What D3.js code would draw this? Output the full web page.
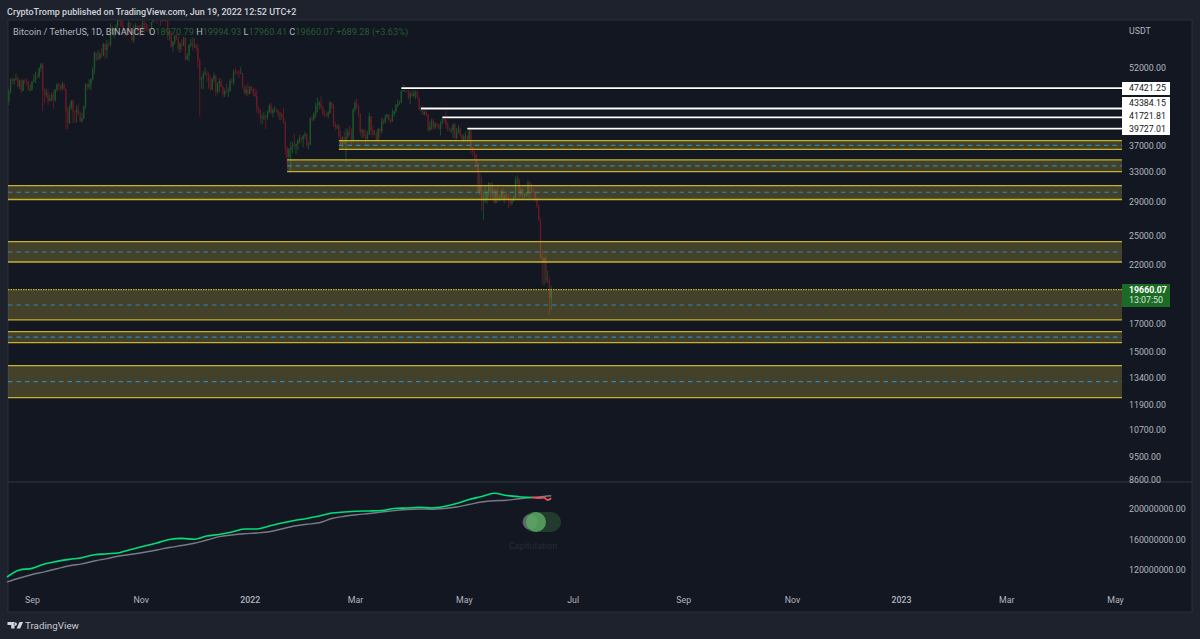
<!DOCTYPE html>
<html>
<head>
<meta charset="utf-8">
<script src="https://cdn.jsdelivr.net/npm/d3@7"></script>
<style>
  html, body { margin: 0; padding: 0; background: #1e222d; }
  svg { display: block; font-family: Roboto, sans-serif; }
</style>
</head>
<body>
<svg width="1200" height="639" viewBox="0 0 1200 639"></svg>
<script>
// Daily BTCUSDT candles, Aug 18 2021 - Jun 19 2022 (one row per month)
const firstDay = "2021-08-18";
const opens = [
  45000,44800,46700,49300,48900,49300,49500,47700,49000,46850,49070,48900,48800,46990,
  47100,48800,49270,49940,49900,51750,52660,46860,46070,46400,44850,45140,46060,44960,47090,48150,47750,47300,48300,47260,42990,40700,43570,44900,42840,42700,43170,42170,41030,41520,
  43820,48140,47630,48200,49220,51470,55310,53800,53960,54960,54690,57480,56000,57370,57350,61670,60870,61530,62010,64280,66000,62200,60690,61300,60850,63080,60330,58450,60590,62270,61890,
  61300,60910,63220,62930,61440,60970,61450,63270,67520,66930,64880,64810,64150,64400,65500,63600,60060,60360,56900,58060,59700,58680,56280,57540,57140,58960,53730,54710,57270,57800,
  56950,57180,56480,53600,49150,49390,50440,50590,50470,47540,47150,49390,50050,46700,48340,48860,47630,46130,46830,46680,46910,48890,48590,50820,50800,50710,50700,50700,47540,46460,47120,
  46210,47720,47300,46430,45830,43430,43080,41550,41680,41860,41820,42730,43920,42590,43100,43180,43110,42250,42370,41660,40680,36450,35070,36280,36660,36950,36810,37160,37710,38170,37920,
  38480,38740,36950,37080,41570,41380,42410,43840,44040,44390,43510,42380,42230,42060,42530,44570,43870,40520,40000,40120,38430,37070,38280,37250,38330,39220,39110,37700,
  43160,44420,43920,42450,39140,39400,38420,37990,38730,41940,39420,38730,38810,37780,39670,39280,41110,40920,41760,42200,41260,41000,42360,42880,43990,44310,44510,46820,47130,47430,47060,
  45510,46280,45810,46410,46580,45500,43170,43440,42250,42750,42160,39530,40070,41150,39940,40550,40400,39680,40800,41500,41360,40480,39710,39450,39450,40430,38110,39240,39740,38600,
  37630,38470,38520,37730,39690,36550,36010,35470,34040,30080,31020,28940,28990,29280,30080,31330,29870,30440,28720,30300,29200,29430,30290,29100,29650,29540,29200,28630,29030,29470,31720,
  31790,29800,30450,29700,29860,29910,31370,31130,30200,30110,29090,28420,26570,22490,22140,22580,20380,20450,18970
];
const highs = [
  46000,47300,49400,49800,49500,50500,49900,49200,49300,49200,49300,49600,48900,48200,
  48900,50400,51000,50600,51900,52900,52950,47400,47350,47100,46000,46500,46900,47250,48450,48500,48150,48800,48400,47350,43650,44000,45000,45150,43000,43950,44350,42800,42600,43950,
  48500,48350,49300,49500,51900,55750,55300,56100,55500,56550,57800,57700,58550,58000,62950,62400,61700,62700,64500,67000,66650,63700,61750,61500,63700,63300,61500,62500,62950,62350,62450,
  62450,64300,63500,63100,62600,61600,63300,67800,68500,69000,65600,65450,65000,65950,66400,63500,61000,60950,58300,59800,60000,59500,58000,58600,59400,59200,55300,57400,58850,59200,
  59000,57400,57600,53900,49800,51000,51900,51150,50800,50100,49500,50800,50200,48650,49500,49450,48000,47350,48350,47550,49300,49600,51400,51800,51150,51300,52100,50700,48150,47900,48550,
  47900,47950,47550,47500,47100,43700,43200,42300,42800,42250,43000,44300,44450,43450,43800,43450,43200,42700,42600,43450,41100,36800,36500,37500,37500,38900,37250,38000,38700,38350,38700,
  39250,38900,37400,41700,41950,42650,44500,45500,44800,45800,43900,43000,42750,42900,44750,44550,44200,40950,40450,40500,39400,38400,39250,39800,39700,40300,39800,43400,
  44950,45400,44100,42500,39700,39650,39550,39350,42600,41950,40250,39500,39300,39800,39900,41700,41450,42300,42400,42300,41550,43350,43000,44250,45100,44800,46900,48200,48100,47700,47550,
  46700,47200,47450,46900,47200,45500,43900,43950,43000,43400,42400,41000,41550,41450,40850,40700,40600,41100,41750,42200,42950,40800,39900,39900,40600,40800,39850,40350,39950,38800,
  38700,39200,38650,39950,39850,36650,36150,35550,34250,32650,32200,30200,30950,30300,31450,31300,31400,30700,30500,30750,29650,30450,30650,29850,30200,29850,29400,29250,29550,32200,32400,
  32000,30700,30700,29950,30150,31750,31550,31300,30600,30300,29450,28550,26900,23350,22700,22950,21400,20800,19995
];
const lows = [
  44200,43950,46300,48300,48100,49000,47600,47200,46400,46800,48300,47900,46900,46750,
  46900,48600,48400,49500,49500,50950,42850,44400,45500,44150,44750,44750,43350,44700,46700,47050,46700,47050,46850,39600,39600,40550,43100,40700,40800,40750,42100,40900,40800,41400,
  43300,47050,47150,46900,49050,50400,53350,53650,53700,54100,54450,53850,54150,56800,56850,60150,58950,59850,61300,63550,62000,60000,59700,59500,60700,59850,58000,57800,60200,60700,59500,
  59400,60100,60400,60700,60800,60150,61300,63200,66300,62800,64100,62300,63300,63600,63300,58600,58400,56500,55600,57400,58500,55600,55300,55900,57000,53500,53600,53300,56700,55900,
  56500,55850,51700,42000,47300,47100,50100,48650,47300,46850,46950,48650,45700,46300,46550,47500,45500,45600,46400,45550,46650,48450,48050,50450,50200,49500,50450,47400,46100,45900,45650,
  46200,46750,45700,45550,42500,42450,40600,40500,41200,39650,41300,42450,42300,41750,42600,42650,41550,41250,41150,40550,35450,34000,34650,32950,35700,36250,35500,36200,37300,37350,36650,
  38000,36600,36250,36900,40950,41100,41650,42700,43200,43200,42000,41700,41850,41550,42400,43300,40100,39450,39650,38000,36800,36350,37050,34300,38050,38600,37000,37450,
  42800,43300,41850,38550,38100,38100,37200,37850,38650,38550,38200,38650,37600,37550,38100,38900,40500,40550,41500,40900,40500,40900,41900,42550,43600,44100,44400,46700,46550,46600,45200,
  44200,45650,45500,45100,45350,43100,42750,42150,42150,41900,39200,39250,39550,39550,39600,39950,39550,38550,40500,40800,39750,39200,39300,39000,38200,37700,37900,38900,38200,37550,
  37400,37650,37500,37650,35600,35250,34750,33700,30000,29750,27750,26700,28700,28650,29500,29100,29400,28650,28650,28750,28950,29250,28850,28650,29300,28050,28250,28450,28850,29300,31200,
  29300,29600,29300,29450,29500,29500,29250,29850,29950,28850,28100,26550,22450,20100,20050,20200,20250,17600,17960
];
const closes = [
  44800,46700,49300,48900,49300,49500,47700,49000,46850,49070,48900,48800,46990,47100,
  48800,49270,49940,49900,51750,52660,46860,46070,46400,44850,45140,46060,44960,47090,48150,47750,47300,48300,47260,42990,40700,43570,44900,42840,42700,43170,42170,41030,41520,43820,
  48140,47630,48200,49220,51470,55310,53800,53960,54960,54690,57480,56000,57370,57350,61670,60870,61530,62010,64280,66000,62200,60690,61300,60850,63080,60330,58450,60590,62270,61890,61300,
  60910,63220,62930,61440,60970,61450,63270,67520,66930,64880,64810,64150,64400,65500,63600,60060,60360,56900,58060,59700,58680,56280,57540,57140,58960,53730,54710,57270,57800,56950,
  57180,56480,53600,49150,49390,50440,50590,50470,47540,47150,49390,50050,46700,48340,48860,47630,46130,46830,46680,46910,48890,48590,50820,50800,50710,50700,50700,47540,46460,47120,46210,
  47720,47300,46430,45830,43430,43080,41550,41680,41860,41820,42730,43920,42590,43100,43180,43110,42250,42370,41660,40680,36450,35070,36280,36660,36950,36810,37160,37710,38170,37920,38480,
  38740,36950,37080,41570,41380,42410,43840,44040,44390,43510,42380,42230,42060,42530,44570,43870,40520,40000,40120,38430,37070,38280,37250,38330,39220,39110,37700,43160,
  44420,43920,42450,39140,39400,38420,37990,38730,41940,39420,38730,38810,37780,39670,39280,41110,40920,41760,42200,41260,41000,42360,42880,43990,44310,44510,46820,47130,47430,47060,45510,
  46280,45810,46410,46580,45500,43170,43440,42250,42750,42160,39530,40070,41150,39940,40550,40400,39680,40800,41500,41360,40480,39710,39450,39450,40430,38110,39240,39740,38600,37630,
  38470,38520,37730,39690,36550,36010,35470,34040,30080,31020,28940,28990,29280,30080,31330,29870,30440,28720,30300,29200,29430,30290,29100,29650,29540,29200,28630,29030,29470,31720,31790,
  29800,30450,29700,29860,29910,31370,31130,30200,30110,29090,28420,26570,22490,22140,22580,20380,20450,18970,19660
];

// Support zones: top, middle, bottom price, and the day the box starts (null = off the left edge)
const zoneTops = [37690, 34650, 30970, 24250, 19660, 16370, 14110];
const zoneMids = [36940, 33750, 30090, 23180, 18390, 15975, 13160];
const zoneBottoms = [36300, 32920, 29150, 22190, 17230, 15600, 12270];
const zoneStarts = ["2022-02-20", "2022-01-22", null, null, null, null, null];

// Horizontal rays with their price tags
const rayPrices = [47421.25, 43384.15, 41721.81, 39727.01];
const rayStarts = ["2022-03-27", "2022-04-07", "2022-04-19", "2022-05-03"];

const priceTicks = [52000, 37000, 33000, 29000, 25000, 22000, 17000, 15000, 13400, 11900, 10700, 9500, 8600];
const indicatorTicks = [200000000, 160000000, 120000000];
const timeTicks = ["2021-09-01", "2021-11-01", "2022-01-01", "2022-03-01", "2022-05-01", "2022-07-01",
  "2022-09-01", "2022-11-01", "2023-01-01", "2023-03-01", "2023-05-01"];
const timeLabels = ["Sep", "Nov", "2022", "Mar", "May", "Jul", "Sep", "Nov", "2023", "Mar", "May"];

// Lower pane lines, millions, sampled weekly
const lineDates = ["2021-08-18","2021-08-25","2021-09-01","2021-09-08","2021-09-15","2021-09-22","2021-09-29","2021-10-06","2021-10-13","2021-10-20","2021-10-27",
  "2021-11-03","2021-11-10","2021-11-17","2021-11-24","2021-12-01","2021-12-08","2021-12-15","2021-12-22","2021-12-29","2022-01-05","2022-01-12","2022-01-19","2022-01-26",
  "2022-02-02","2022-02-09","2022-02-16","2022-02-23","2022-03-02","2022-03-09","2022-03-16","2022-03-23","2022-03-30","2022-04-06","2022-04-13","2022-04-20","2022-04-27",
  "2022-05-04","2022-05-11","2022-05-18","2022-05-25","2022-06-01","2022-06-08"];
const fastLine = [109.5,118.7,120.8,126.6,130,132.6,134.8,138.6,139.9,141.4,146,
  150.2,154.1,158.7,160.1,159,163.3,165.2,168.5,172.5,172.5,176.4,180.3,183.6,
  186.2,189.5,193.4,194.8,195.8,196.1,196.7,199.3,200,200.9,200,202,205.9,
  211.1,215.1,219.3,216.4,214.8,213.8];
const slowDates = lineDates.concat(["2022-06-12","2022-06-15","2022-06-17","2022-06-19"]);
const slowLine = [103,108.2,112.8,116.3,120.4,124.3,126.8,130.5,133.6,137,139.3,
  141.9,144.9,148.2,150.8,153.7,158,162.4,164.6,166.2,167.2,168.9,172.5,176.4,
  178.6,180.7,186.2,189.1,191.2,192.8,194.8,196.5,198,198.7,198.3,199.3,201.3,
  204.6,207.9,209.6,210.2,212.2,213.8,214.4,215.1,215.7,216];
const redDates = ["2022-06-08","2022-06-12","2022-06-15","2022-06-17","2022-06-19"];
const redLine = [213.8,213.1,213.5,210.5,212.7];

const svg = d3.select("svg");
const parseDay = d3.utcParse("%Y-%m-%d");

const paneLeft = 8, paneRight = 1192, axisLeft = 1122, paneTop = 20, paneSplit = 482, paneBottom = 612;

const x = d3.scaleUtc().domain([parseDay("2021-09-01"), parseDay("2023-05-01")]).range([32, 1115]);
const y = d3.scaleLog().domain([8600, 52000]).range([479, 67]);
const yLow = d3.scaleLinear().domain([120000000, 200000000]).range([569, 508]);

// Panels
svg.append("rect").attr("width", 1200).attr("height", 639).attr("fill", "#1e222d");
svg.append("rect").attr("x", paneLeft).attr("y", paneTop)
  .attr("width", paneRight - paneLeft).attr("height", paneBottom - paneTop)
  .attr("fill", "#131722").attr("stroke", "#2a2e39");
svg.append("line").attr("x1", paneLeft).attr("x2", paneRight).attr("y1", paneSplit).attr("y2", paneSplit)
  .attr("stroke", "#2a2e39").attr("stroke-width", 1.5);

svg.append("clipPath").attr("id", "priceClip").append("rect")
  .attr("x", paneLeft).attr("y", paneTop).attr("width", axisLeft - paneLeft).attr("height", paneSplit - paneTop);

const price = svg.append("g").attr("clip-path", "url(#priceClip)");

// Candles
const start = parseDay(firstDay);
const candles = closes.map((c, i) => ({
  date: d3.utcDay.offset(start, i), o: opens[i], h: highs[i], l: lows[i], c
}));
const candleColor = d => d.c >= d.o ? "#1b5529" : "#661a26";

const candle = price.append("g").selectAll("g").data(candles).enter().append("g");
candle.append("line")
  .attr("x1", d => x(d.date)).attr("x2", d => x(d.date))
  .attr("y1", d => y(d.h)).attr("y2", d => y(d.l))
  .attr("stroke", candleColor).attr("stroke-width", 0.9);
candle.append("rect")
  .attr("x", d => x(d.date) - 0.7).attr("width", 1.4)
  .attr("y", d => y(Math.max(d.o, d.c)))
  .attr("height", d => Math.max(0.8, Math.abs(y(d.o) - y(d.c))))
  .attr("fill", candleColor);

// Zones
zoneTops.forEach((top, i) => {
  const left = zoneStarts[i] ? x(parseDay(zoneStarts[i])) : paneLeft;
  const g = price.append("g");
  g.append("rect").attr("x", left).attr("width", axisLeft - left)
    .attr("y", y(top)).attr("height", y(zoneBottoms[i]) - y(top))
    .attr("fill", "#cdb93c").attr("fill-opacity", 0.26);
  [top, zoneBottoms[i]].forEach(p => {
    g.append("line").attr("x1", left).attr("x2", axisLeft).attr("y1", y(p)).attr("y2", y(p))
      .attr("stroke", "#c3b32e").attr("stroke-width", 1.3)
      .attr("stroke-dasharray", top === 19660 && p === top ? "1.5,1" : null);
  });
  g.append("line").attr("x1", left).attr("x2", axisLeft).attr("y1", y(zoneMids[i])).attr("y2", y(zoneMids[i]))
    .attr("stroke", "#2f86bb").attr("stroke-width", 1.2).attr("stroke-dasharray", "4.5,4");
});

// Rays
rayPrices.forEach((p, i) => {
  const left = x(parseDay(rayStarts[i]));
  price.append("line").attr("x1", left).attr("x2", axisLeft).attr("y1", y(p)).attr("y2", y(p))
    .attr("stroke", "#0b0e14").attr("stroke-width", 3.4);
  price.append("line").attr("x1", left).attr("x2", axisLeft).attr("y1", y(p)).attr("y2", y(p))
    .attr("stroke", "#ffffff").attr("stroke-width", 1.8);
});

// Price axis
const priceAxis = svg.append("g").attr("transform", `translate(${axisLeft},0.5)`)
  .call(d3.axisRight(y).tickValues(priceTicks).tickFormat(d => d.toFixed(2)).tickSize(0).tickPadding(7));
priceAxis.select(".domain").remove();
const lowAxis = svg.append("g").attr("transform", `translate(${axisLeft},1)`)
  .call(d3.axisRight(yLow).tickValues(indicatorTicks).tickFormat(d => d.toFixed(2)).tickSize(0).tickPadding(7));
lowAxis.select(".domain").remove();
svg.selectAll(".tick text").attr("font-family", "Roboto, sans-serif").attr("font-size", 8.8).attr("fill", "#b2b5be");

svg.append("text").attr("x", 1129).attr("y", 34).attr("font-size", 8.8).attr("fill", "#b2b5be").text("USDT");

// Price tags on the axis
const tagCenters = [88.5, 103.5, 116.5, 129];
svg.append("rect").attr("x", axisLeft).attr("y", 82).attr("width", 48).attr("height", 13).attr("fill", "#fff");
svg.append("rect").attr("x", axisLeft).attr("y", 97).attr("width", 48).attr("height", 38).attr("fill", "#fff");
rayPrices.forEach((p, i) => {
  svg.append("text").attr("x", 1129).attr("y", tagCenters[i]).attr("dy", "0.34em")
    .attr("font-size", 8.8).attr("fill", "#131722").text(p.toFixed(2));
});

svg.append("rect").attr("x", axisLeft).attr("y", 284).attr("width", 48).attr("height", 23).attr("fill", "#1b6b25");
svg.append("text").attr("x", 1129).attr("y", 290.5).attr("dy", "0.34em").attr("font-size", 8.8).attr("font-weight", 700)
  .attr("fill", "#fff").text("19660.07");
svg.append("text").attr("x", 1129).attr("y", 300.5).attr("dy", "0.34em").attr("font-size", 8.8)
  .attr("fill", "#d8e6da").text("13:07:50");

// Lower pane lines
const lowLine = d3.line().x(d => x(parseDay(d[0]))).y(d => yLow(d[1] * 1e6)).curve(d3.curveMonotoneX);
const drawLow = (dates, values, color, width) => svg.append("path")
  .datum(dates.map((d, i) => [d, values[i]]))
  .attr("fill", "none").attr("stroke", color).attr("stroke-width", width).attr("d", lowLine);
drawLow(slowDates, slowLine, "#787b86", 1.4);
drawLow(lineDates, fastLine, "#00e07a", 1.6);
drawLow(redDates, redLine, "#f0525a", 1.8);

// Capitulation badge
svg.append("rect").attr("x", 523).attr("y", 512).attr("width", 38).attr("height", 20).attr("rx", 10)
  .attr("fill", "#2f5a38").attr("fill-opacity", 0.55);
svg.append("circle").attr("cx", 530).attr("cy", 522).attr("r", 7.5).attr("fill", "#a0a4ac").attr("fill-opacity", 0.45);
svg.append("circle").attr("cx", 536).attr("cy", 522).attr("r", 10).attr("fill", "#5aa862").attr("fill-opacity", 0.85);
svg.append("text").attr("x", 533).attr("y", 549).attr("text-anchor", "middle").attr("font-size", 9)
  .attr("fill", "#262b38").text("Capitulation");

// Time axis
const timeAxis = svg.append("g").attr("transform", "translate(0,597)")
  .call(d3.axisBottom(x).tickValues(timeTicks.map(parseDay)).tickFormat((d, i) => timeLabels[i]).tickSize(0).tickPadding(0));
timeAxis.select(".domain").remove();
timeAxis.selectAll("text").attr("font-family", "Roboto, sans-serif").attr("font-size", 8.8)
  .attr("font-weight", (d, i) => /^\d/.test(timeLabels[i]) ? 500 : 400)
  .attr("fill", "#b2b5be");

// Header text
svg.append("text").attr("x", 7).attr("y", 14.5).attr("font-size", 9).attr("font-weight", 500)
  .attr("fill", "#d1d4dc").text("CryptoTromp published on TradingView.com, Jun 19, 2022 12:52 UTC+2");

const legend = svg.append("text").attr("x", 13).attr("y", 34.5).attr("font-size", 9.2);
const legendParts = [
  ["Bitcoin / TetherUS, 1D, BINANCE\u00a0\u00a0", "#b2b5be"], ["O", "#b2b5be"], ["18970.79 ", "#235c30"],
  ["H", "#b2b5be"], ["19994.93 ", "#235c30"], ["L", "#b2b5be"], ["17960.41 ", "#235c30"],
  ["C", "#b2b5be"], ["19660.07 +689.28 (+3.63%)", "#235c30"]
];
legendParts.forEach(([t, c]) => legend.append("tspan").attr("fill", c).text(t));

// Footer logo and name
svg.append("path").attr("fill", "#d1d4dc")
  .attr("d", "M7.5 622h7v6.5h-3.3v-3.6h-3.7z M15.3 622.5a1.6 1.6 0 1 0 .01 0z M19.5 622h3.6l-3 6.5h-3.5z");
svg.append("text").attr("x", 25).attr("y", 629).attr("font-size", 9.8).attr("fill", "#c8cbd3").text("TradingView");
</script>
</body>
</html>
